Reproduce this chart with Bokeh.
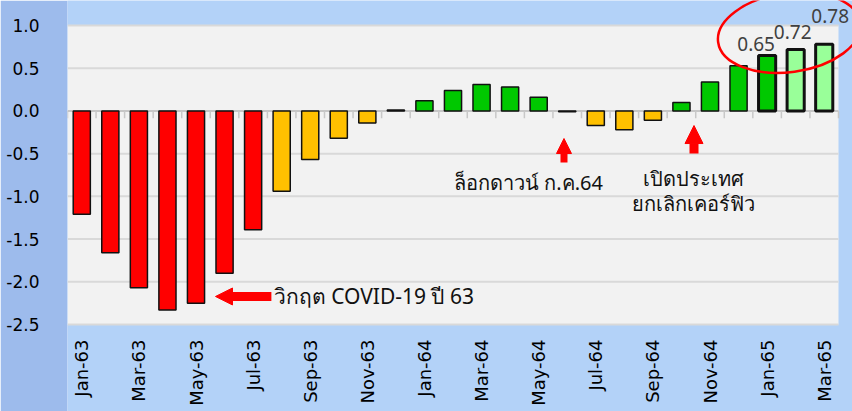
import math
from bokeh.plotting import figure
from bokeh.models import Range1d, FixedTicker, PrintfTickFormatter, Arrow, NormalHead, ColumnDataSource
from bokeh.core.properties import value
from bokeh.embed import file_html
from bokeh.resources import INLINE

# ---------------- data ----------------
months = ["Jan-63", "Feb-63", "Mar-63", "Apr-63", "May-63", "Jun-63", "Jul-63",
          "Aug-63", "Sep-63", "Oct-63", "Nov-63", "Dec-63",
          "Jan-64", "Feb-64", "Mar-64", "Apr-64", "May-64", "Jun-64",
          "Jul-64", "Aug-64", "Sep-64", "Oct-64", "Nov-64", "Dec-64",
          "Jan-65", "Feb-65", "Mar-65"]
values = [-1.21, -1.66, -2.07, -2.33, -2.25, -1.90, -1.39,
          -0.94, -0.57, -0.32, -0.14, 0.01,
          0.12, 0.24, 0.31, 0.28, 0.16, -0.01,
          -0.17, -0.22, -0.11, 0.10, 0.34, 0.53,
          0.65, 0.72, 0.78]
RED, ORANGE, GREEN, LIGHT = "#FF0000", "#FFC000", "#00C800", "#99FF99"
bar_colors = ([RED] * 7 + [ORANGE] * 4 + [GREEN] + [GREEN] * 5 + [ORANGE] +
              [ORANGE] * 3 + [GREEN] * 4 + [LIGHT] * 2)
bar_line_widths = [1.5] * 24 + [3] * 3
y_ticks = [-2.5, -2.0, -1.5, -1.0, -0.5, 0.0, 0.5, 1.0]
x_tick_idx = list(range(0, len(months), 2))
x_tick_labels = [months[i] for i in x_tick_idx]
highlight_idx = [24, 25, 26]
highlight_text = [f"{values[i]:.2f}" for i in highlight_idx]
label_dx = [-11, -3, 6]      # pixel offsets of value labels
label_dy = [-4, -10, -21]

note_covid = "วิกฤต COVID-19 ปี 63"
note_lock = "ล็อกดาวน์ ก.ค.64"
note_open1 = "เปิดประเทศ"
note_open2 = "ยกเลิกเคอร์ฟิว"

# ---------------- layout ----------------
W, H = 852, 411
FRAME_L = 67
n = len(months)
PX_X = 771 / 27.0          # pixels per category
PX_Y = 299 / 3.5           # pixels per unit
x_lo = -0.5
x_hi = x_lo + (W - FRAME_L) / PX_X
plot_top, plot_bottom = 1.0, -2.5
y_hi = plot_top + 25 / PX_Y
y_lo = plot_bottom - (H - 324) / PX_Y
plot_right = n - 0.5

p = figure(width=W, height=H, output_backend="svg", toolbar_location=None,
           x_range=Range1d(x_lo, x_hi), y_range=Range1d(y_lo, y_hi),
           min_border_left=FRAME_L, min_border_right=0, min_border_top=0,
           min_border_bottom=0, x_axis_location=None)
p.background_fill_color = "#B3D2F8"
p.border_fill_color = "#9DBBEC"
p.outline_line_color = None
p.xgrid.visible = False
p.ygrid.visible = False

# gray plotting area
p.quad(left=[x_lo], right=[plot_right], bottom=[plot_bottom], top=[plot_top],
       fill_color="#F2F2F2", line_color=None)
# grid lines
p.segment(x0=[x_lo] * len(y_ticks), x1=[plot_right] * len(y_ticks),
          y0=y_ticks, y1=y_ticks, line_color="#D9D9D9", line_width=2)
# zero axis + ticks
p.segment(x0=[x_lo], x1=[plot_right], y0=[0], y1=[0], line_color="#BFBFBF", line_width=1.5)
tick_x = [k - 0.5 for k in range(n + 1)]
p.segment(x0=tick_x, x1=tick_x, y0=[0] * len(tick_x), y1=[-0.085] * len(tick_x),
          line_color="#C8C8C8", line_width=1.5)

src = ColumnDataSource(dict(x=list(range(n)), top=values, color=bar_colors, lw=bar_line_widths))
p.vbar(x="x", top="top", bottom=0, width=0.6, fill_color="color",
       line_color="#111111", line_width="lw", source=src)

# value labels
p.text(x=highlight_idx, y=[values[i] for i in highlight_idx], text=highlight_text,
       x_offset=label_dx, y_offset=label_dy, text_align="center", text_baseline="bottom",
       text_font=value("Noto Sans"), text_font_size="19px", text_color="#404040")

# category labels (rotated)
p.text(x=x_tick_idx, y=[plot_bottom] * len(x_tick_idx), text=x_tick_labels,
       angle=math.pi / 2, y_offset=15, text_align="right", text_baseline="middle",
       text_font=value("DejaVu Sans"), text_font_size="18px", text_color="#000000")

# annotations
red_head = lambda s: NormalHead(size=s, fill_color="#FF0000", line_color="#FF0000", line_width=1)
p.add_layout(Arrow(end=red_head(17), x_start=6.64, y_start=-2.172, x_end=4.683, y_end=-2.172,
                   line_color="#FF0000", line_width=9))
p.add_layout(Arrow(end=red_head(15), x_start=16.887, y_start=-0.604, x_end=16.887, y_end=-0.323,
                   line_color="#FF0000", line_width=7))
p.add_layout(Arrow(end=red_head(18), x_start=21.44, y_start=-0.498, x_end=21.44, y_end=-0.171,
                   line_color="#FF0000", line_width=9))
p.text(x=[6.72], y=[-2.172], text=[note_covid], text_align="left", text_baseline="middle",
       text_font=value("Noto Sans"), text_font_size="21px", text_color="#111111")
p.text(x=[15.643], y=[-0.838], text=[note_lock], text_align="center", text_baseline="middle",
       text_font=value("Noto Sans"), text_font_size="20px", text_color="#111111")
p.text(x=[21.42, 21.42], y=[-0.791, -1.084], text=[note_open1, note_open2], text_align="center",
       text_baseline="middle", text_font=value("Noto Sans"), text_font_size="20px",
       text_color="#111111")

# red highlight ellipse
p.ellipse(x=[24.773], y=[0.918], width=[143.4], height=[79.2], angle=[0.136],
          width_units="screen", height_units="screen", fill_color=None,
          line_color="#FF0000", line_width=2.5)

# y axis
p.yaxis.ticker = FixedTicker(ticks=y_ticks)
p.yaxis.formatter = PrintfTickFormatter(format="%.1f")
p.yaxis.axis_line_color = None
p.yaxis.major_tick_line_color = None
p.yaxis.minor_tick_line_color = None
p.yaxis.major_tick_out = 0
p.yaxis.major_label_standoff = 28
p.yaxis.major_label_text_font = "DejaVu Sans"
p.yaxis.major_label_text_font_size = "17px"
p.yaxis.major_label_text_color = "#000000"

open("out.html", "w").write(file_html(p, INLINE))
